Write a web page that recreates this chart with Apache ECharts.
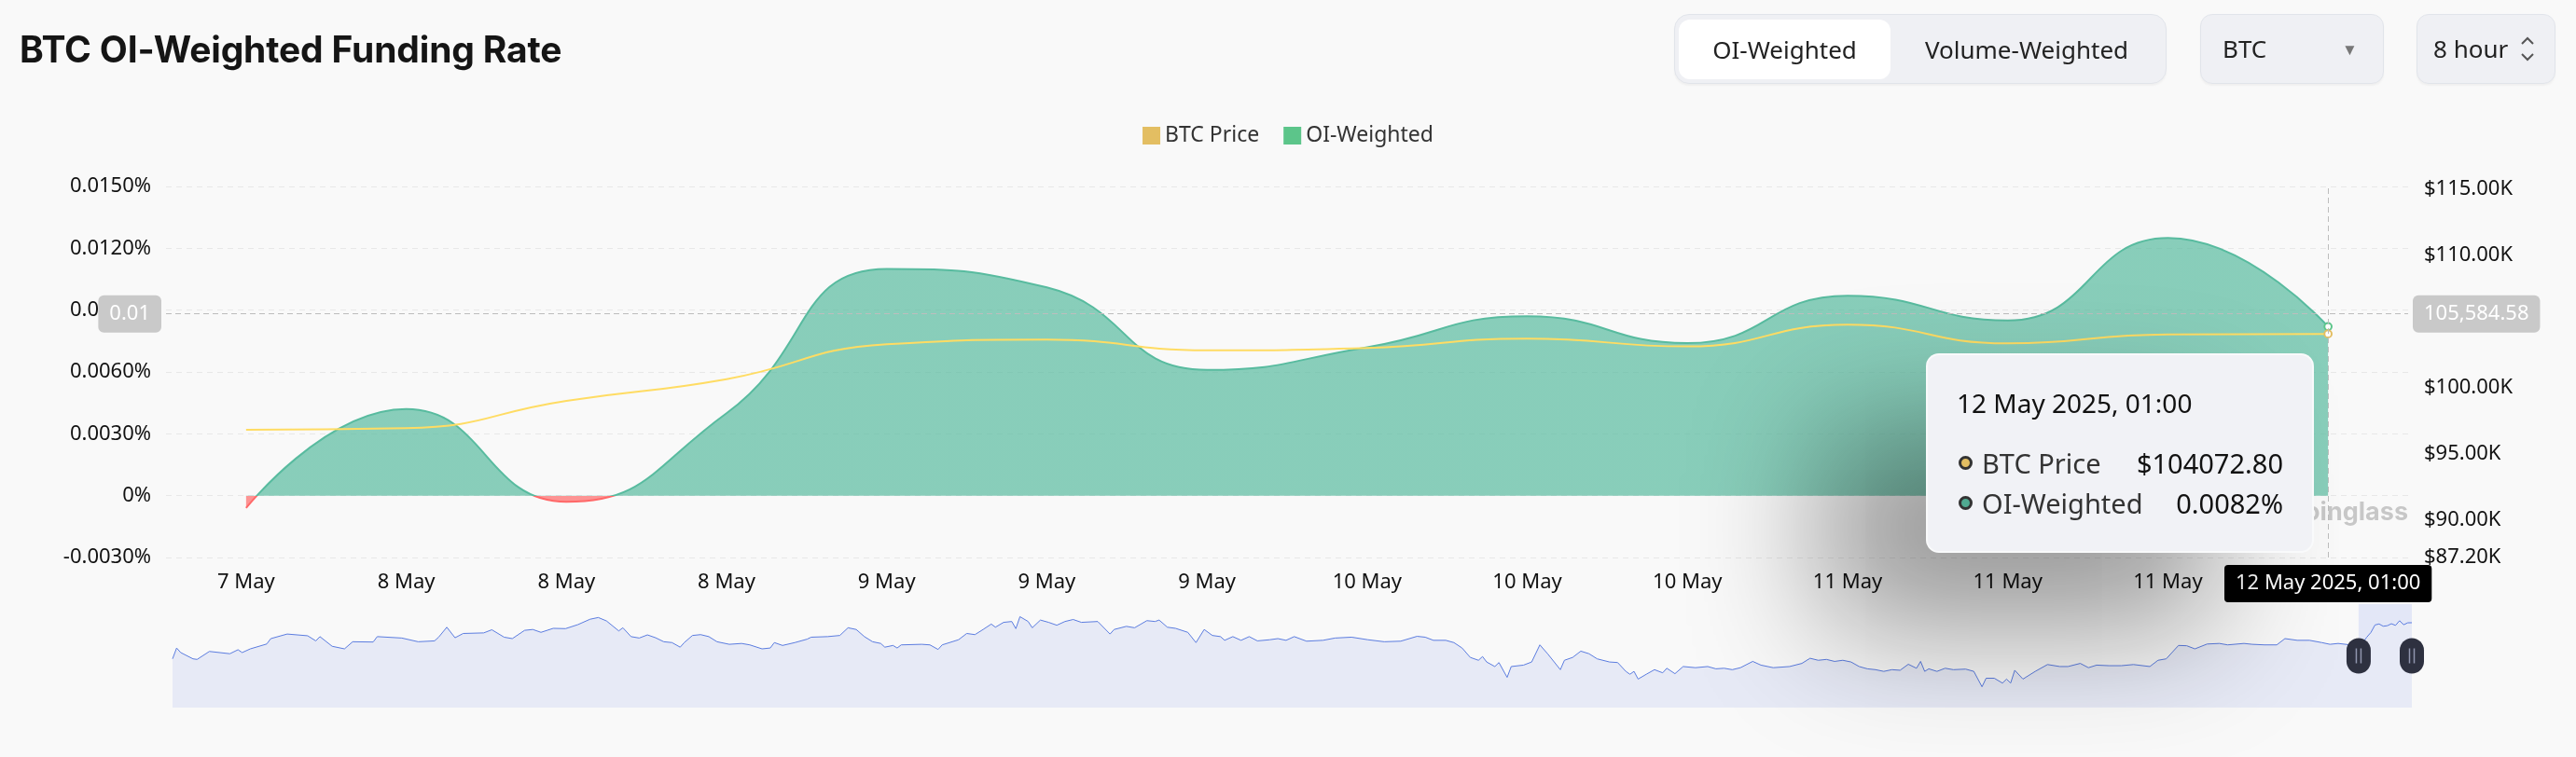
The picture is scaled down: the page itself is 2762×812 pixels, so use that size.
<!DOCTYPE html>
<html><head><meta charset="utf-8">
<script src="https://cdn.jsdelivr.net/npm/echarts@6.0.0/dist/echarts.min.js"></script>
<style>
html,body{margin:0;padding:0;background:#f9f9f9;overflow:hidden}
#chart{position:absolute;left:0;top:0;width:2762px;height:812px}
.ui{position:absolute;font-family:'Noto Sans',sans-serif;color:#222;font-size:26px;box-sizing:border-box;white-space:nowrap}
#title{position:absolute;left:21px;top:33px;font-family:Inter,sans-serif;font-weight:700;font-size:39px;line-height:39px;letter-spacing:-0.15px;color:#151515;white-space:nowrap}
.box{background:#eff0f4;border:1px solid #e1e4ea;border-radius:13px;box-shadow:0 2px 2px rgba(0,0,0,0.04)}
.center{display:flex;align-items:center;justify-content:center}
</style></head>
<body>
<div id="chart"></div>
<div id="title">BTC OI-Weighted Funding Rate</div>
<div class="ui box" style="left:1795px;top:15px;width:528px;height:75px;border-radius:16px"></div>
<div class="ui center" style="left:1800px;top:21px;width:227px;height:64px;background:#fff;border-radius:12px">OI-Weighted</div>
<div class="ui center" style="left:2040px;top:21px;width:266px;height:64px">Volume-Weighted</div>
<div class="ui box" style="left:2359px;top:15px;width:197px;height:75px"></div>
<div class="ui" style="left:2383px;top:15px;height:75px;line-height:75px">BTC</div>
<div class="ui" style="left:2511px;top:15px;height:75px;line-height:75px;font-size:17px;color:#777">▼</div>
<div class="ui box" style="left:2591px;top:15px;width:149px;height:75px"></div>
<div class="ui" style="left:2609px;top:15px;height:75px;line-height:75px">8 hour</div>
<svg style="position:absolute;left:2700px;top:38px" width="20" height="30"><polyline points="4,9 10,3 16,9" fill="none" stroke="#555" stroke-width="2"/><polyline points="4,20 10,26 16,20" fill="none" stroke="#555" stroke-width="2"/></svg>
<script>
const FONT = "'Noto Sans', sans-serif";
const dates = ['7 May 2025, 17:00','8 May 2025, 01:00','8 May 2025, 09:00','8 May 2025, 17:00','9 May 2025, 01:00','9 May 2025, 09:00','9 May 2025, 17:00','10 May 2025, 01:00','10 May 2025, 09:00','10 May 2025, 17:00','11 May 2025, 01:00','11 May 2025, 09:00','11 May 2025, 17:00','12 May 2025, 01:00'];
const btcPrice = [96840, 96960, 99020, 100660, 103290, 103640, 102840, 103010, 103720, 103130, 104770, 103360, 104040, 104072.80];
const oiWeighted = [-0.0006, 0.0042, -0.0003, 0.0040, 0.0110, 0.0101, 0.0061, 0.0072, 0.0087, 0.0074, 0.0097, 0.0085, 0.0125, 0.0082];
const rightTickValues = [87200, 90000, 95000, 100000, 105000, 110000, 115000];
const hoverPrice = 105584.58;
// slider history (sample index, BTC price in $K)
const historyIdx = [0,1,2,5,6,9,14,16,17,19,23,24,28,33,35,36,39,42,44,49,50,56,60,64,65,67,69,71,76,78,81,83,86,88,90,93,96,99,102,104,106,109,110,112,114,116,118,120,122,124,125,127,129,131,133,136,139,141,144,146,147,149,152,155,156,160,163,165,167,169,171,173,174,176,177,178,183,185,187,188,192,194,196,198,200,201,203,205,206,207,209,210,212,214,216,218,220,222,226,229,230,233,235,238,240,241,243,245,248,250,252,254,256,257,259,261,263,265,268,270,272,274,277,281,284,288,292,296,300,304,306,308,311,313,315,317,319,320,321,323,324,326,327,330,332,334,336,339,340,342,344,346,348,351,353,355,356,357,358,360,362,364,365,367,369,372,375,377,379,381,383,386,388,391,395,398,400,402,404,406,408,410,412,414,416,418,420,422,424,426,427,428,429,431,433,435,438,440,442,443,445,447,448,449,450,452,455,458,461,463,466,468,470,473,476,479,483,485,487,490,492,494,497,500,502,506,508,511,514,516,519,522,525,527,529,532,534,535,536,537,538,539,540,541,542,543,544,545,546,547];
const historyPrice = [91.4,95.2,93.6,91.4,91.2,94.0,93.2,94.6,93.6,94.9,96.6,98.5,100.1,99.5,97.7,99.2,95.8,94.9,97.4,97.3,99.2,98.7,97.4,97.7,99.0,102.5,98.8,100.3,100.5,101.6,99.0,98.5,101.4,101.7,100.7,102.1,102.0,103.4,105.3,105.9,104.7,101.2,102.3,99.2,98.7,99.8,98.8,97.4,97.1,95.5,97.1,99.6,99.9,99.2,97.4,96.5,96.8,96.3,94.9,95.2,97.1,96.1,97.1,98.3,99.0,99.2,99.6,102.3,101.7,99.2,97.4,96.8,95.5,96.1,95.2,96.3,96.5,96.3,94.7,96.3,98.1,100.3,99.9,101.7,103.6,102.5,104.2,104.5,102.0,106.2,104.5,102.3,105.0,104.2,103.2,104.5,105.2,104.2,104.5,100.1,101.7,102.8,102.3,104.8,104.5,105.0,102.5,102.1,100.7,97.1,101.7,99.6,99.2,97.9,99.2,97.9,99.2,97.7,98.1,98.5,97.9,99.2,97.6,97.9,98.7,99.0,98.1,97.4,97.6,99.3,99.0,97.9,97.9,97.1,95.2,91.9,90.9,92.2,90.3,88.7,90.1,84.9,88.7,89.2,90.3,96.3,93.0,87.6,90.9,91.9,94.1,93.2,91.4,90.3,90.1,87.0,86.0,87.0,84.3,86.0,87.6,86.5,88.1,86.2,88.7,88.3,88.7,87.9,88.1,87.6,88.3,90.5,89.2,88.3,88.7,89.8,91.6,90.9,91.2,90.5,90.9,90.3,88.7,87.9,87.6,87.0,87.6,87.4,89.5,88.1,90.5,87.0,87.9,87.0,88.1,87.6,87.8,87.0,81.6,84.6,84.6,82.9,84.3,82.9,87.4,84.3,87.0,89.4,88.7,88.7,89.8,88.3,89.2,89.0,89.0,89.4,88.7,90.9,91.4,96.1,96.0,94.9,96.6,96.8,96.3,96.8,96.5,96.3,96.3,98.5,97.9,97.9,97.1,96.5,96.8,96.3,96.84,96.96,99.02,100.66,103.29,103.64,102.84,103.01,103.72,103.13,104.77,103.36,104.04,104.07];
const windowStart = 534, windowEnd = 547;
const POS = '#50AA91', NEG = '#EC5F5F';

const chart = echarts.init(document.getElementById('chart'), null, {renderer: 'canvas'});
const grayLabel = {show: true, precision: 2, backgroundColor: '#c9c9c9', color: '#fff', fontSize: 22, fontFamily: FONT, padding: [9, 12, 9, 12], borderRadius: 6, margin: 5};

function row(color, name, val) {
  return '<div style="display:flex;align-items:center;height:43px;font-size:29px;">' +
    '<span style="display:inline-block;width:15px;height:15px;box-sizing:border-box;border-radius:50%;background:' + color + ';border:3px solid #333;margin:0 10px 0 2px"></span>' +
    '<span style="color:#333;flex:1">' + name + '</span><span style="color:#111">' + val + '</span></div>';
}

const watermark = {type: 'text', right: 180, top: 536, z: 1, style: {text: 'Coinglass', font: 'bold 27px Inter', fill: 'rgba(0,0,0,0.2)'}};

const option = {
  backgroundColor: '#f9f9f9',
  animation: false,
  textStyle: {fontFamily: FONT},
  legend: {top: 129, left: 'center', icon: 'rect', itemWidth: 19, itemHeight: 19, itemGap: 26,
    data: ['BTC Price', 'OI-Weighted'], textStyle: {fontSize: 23, color: '#333', fontFamily: FONT}},
  grid: [
    {left: 178, right: 180, top: 200, bottom: 214, outerBoundsMode: 'none'},
    {left: 185, right: 176, top: 648, height: 111, outerBoundsMode: 'none'}
  ],
  tooltip: {
    trigger: 'axis', alwaysShowContent: true, transitionDuration: 0,
    backgroundColor: '#f1f2f6', borderColor: 'rgba(255,255,255,0.6)', borderWidth: 2, padding: 0,
    extraCssText: 'border-radius:14px;box-shadow:-110px 80px 140px rgba(0,0,0,0.4);',
    axisPointer: {type: 'cross', crossStyle: {color: '#bdbdbd', type: [6, 4], width: 1}, lineStyle: {color: '#bdbdbd', type: [6, 4], width: 1}},
    position: function (point, params, dom, rect, size) {
      return [point[0] - size.contentSize[0] - 15, point[1] + 42];
    },
    formatter: function (params) {
      let price = null, oi = null, name = '';
      params.forEach(function (p) {
        name = p.name;
        if (p.seriesName === 'BTC Price') price = p.value;
        if (p.seriesName === 'OI-Weighted') oi = p.value;
      });
      return '<div style="width:350px;padding:33px 31px 30px 31px;font-family:' + FONT + ';">' +
        '<div style="font-size:28px;line-height:36px;color:#111;">' + name + '</div>' +
        '<div style="height:25px"></div>' +
        row('#E3BE62', 'BTC Price', '$' + Number(price).toFixed(2)) +
        row(POS, 'OI-Weighted', Number(oi).toFixed(4) + '%') +
        '</div>';
    }
  },
  xAxis: [
    {type: 'category', data: dates, boundaryGap: true,
      axisLine: {show: false}, axisTick: {show: false}, splitLine: {show: false},
      axisLabel: {interval: 0, margin: 16, fontSize: 22, color: '#111', fontFamily: FONT,
        formatter: function (v) { return v.split(' 2025')[0]; }},
      axisPointer: {label: {show: true, backgroundColor: '#000', color: '#fff', fontSize: 22, fontFamily: FONT,
        padding: [9, 12, 9, 12], borderRadius: 4, margin: 8}}},
    {type: 'value', gridIndex: 1, min: 0, max: 547, show: false}
  ],
  yAxis: [
    {type: 'value', min: -0.003, max: 0.015, interval: 0.003,
      axisLine: {show: false}, axisTick: {show: false},
      splitLine: {lineStyle: {color: '#e8e8e8', type: [6, 5], width: 1}},
      axisLabel: {margin: 16, fontSize: 22, color: '#111', fontFamily: FONT,
        formatter: function (v) { return Math.abs(v) < 1e-12 ? '0%' : v.toFixed(4) + '%'; }},
      axisPointer: {label: grayLabel}},
    {type: 'value', position: 'right', min: 87200, max: 115200,
      axisLine: {show: false}, axisTick: {show: false}, splitLine: {show: false},
      axisLabel: {customValues: rightTickValues, margin: 17, fontSize: 22, color: '#111', fontFamily: FONT,
        formatter: function (v) { return '$' + (v / 1000).toFixed(2) + 'K'; }},
      axisPointer: {label: grayLabel}},
    {type: 'value', gridIndex: 1, min: 74.3, max: 110.6, show: false}
  ],
  series: [
    {name: 'OI-Weighted', type: 'line', data: oiWeighted, smooth: true, showSymbol: false, symbolSize: 7,
      itemStyle: {color: '#5CC58A'}, lineStyle: {width: 2, color: POS}, areaStyle: {opacity: 0.7, color: POS}, z: 2},
    {name: 'BTC Price', type: 'line', yAxisIndex: 1, data: btcPrice, smooth: true, showSymbol: false, symbolSize: 7,
      itemStyle: {color: '#E3BE62'}, lineStyle: {color: '#F5C85A', width: 2}, z: 3},
    {name: 'history', type: 'line', xAxisIndex: 1, yAxisIndex: 2, silent: true, showSymbol: false,
      tooltip: {show: false},
      data: historyIdx.map(function (t, i) { return [t, historyPrice[i]]; }),
      lineStyle: {color: '#5c7de0', width: 1}, areaStyle: {color: '#e7eaf6', opacity: 1},
      markArea: {silent: true, itemStyle: {color: 'rgba(125,150,240,0.18)'},
        data: [[{xAxis: windowStart}, {xAxis: windowEnd}]]}}
  ],
  graphic: [watermark]
};
chart.setOption(option);

// colour the funding-rate line/area green above zero, red below (split at the axis zero line)
const y0 = chart.convertToPixel({yAxisIndex: 0}, 0);
function splitGradient() {
  return new echarts.graphic.LinearGradient(0, y0 - 1, 0, y0 + 1, [
    {offset: 0, color: POS}, {offset: 0.5, color: POS}, {offset: 0.5, color: NEG}, {offset: 1, color: NEG}
  ], true);
}

function handle(x, y) {
  return {type: 'group', x: x, y: y, children: [
    {type: 'rect', z: 100, shape: {x: -13, y: -19, width: 26, height: 38, r: 13}, style: {fill: '#2e3140'}},
    {type: 'line', z: 101, shape: {x1: -2.5, y1: -8, x2: -2.5, y2: 8}, style: {stroke: '#9096ae', lineWidth: 1.5}},
    {type: 'line', z: 101, shape: {x1: 2.5, y1: -8, x2: 2.5, y2: 8}, style: {stroke: '#9096ae', lineWidth: 1.5}}
  ]};
}
const hx0 = chart.convertToPixel({xAxisIndex: 1}, windowStart);
const hx1 = chart.convertToPixel({xAxisIndex: 1}, windowEnd);
const hy = chart.convertToPixel({yAxisIndex: 2}, 92.45);
chart.setOption({
  series: [{name: 'OI-Weighted', lineStyle: {color: splitGradient()}, areaStyle: {color: splitGradient()}}],
  graphic: [watermark, handle(hx0, hy), handle(hx1, hy)]
});

const px = chart.convertToPixel({xAxisIndex: 0}, dates[dates.length - 1]);
const py = chart.convertToPixel({yAxisIndex: 1}, hoverPrice);
chart.dispatchAction({type: 'showTip', x: px, y: py});
</script>
</body></html>
